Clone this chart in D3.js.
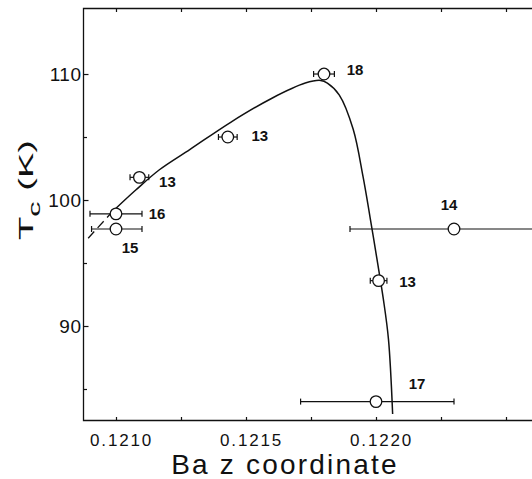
<!DOCTYPE html>
<html>
<head>
<meta charset="utf-8">
<script src="https://cdn.jsdelivr.net/npm/d3@7"></script>
<style>
    body { margin: 0; background: #fff; }
    #chart-area { width: 532px; height: 479px; }
    .axis path, .axis line { stroke: #111; stroke-width: 1.2px; }
    .axis text { font-family: "Liberation Sans", Arial, sans-serif; fill: #111; }
    .pt-label { font-family: "Liberation Sans", Arial, sans-serif; font-weight: bold; font-size: 15px; fill: #111; }
</style>
</head>
<body>
<div id="chart-area"></div>
<script>

// measured points (Ba z coordinate vs Tc)
let bazZ = [0.12180, 0.12143, 0.12109, 0.12100, 0.12100, 0.12230, 0.12201, 0.12200];
let tcK = [110.0, 105.0, 101.8, 98.9, 97.7, 97.7, 93.6, 84.0];
let errLow = [0.00004, 0.000036, 0.000036, 0.0001, 0.000094, 0.0004, 0.000032, 0.00029];
let errHigh = [0.00004, 0.000036, 0.000036, 0.0001, 0.0001, 0.0004, 0.000032, 0.0003];
let refLabels = ["18", "13", "13", "16", "15", "14", "13", "17"];

// guide curve drawn through the points
let curveZ = [0.120985, 0.121076, 0.121167, 0.121285, 0.121441, 0.121598, 0.121728, 0.121787,
    0.121813, 0.121859, 0.121912, 0.121950, 0.121977, 0.122003, 0.122028, 0.122048, 0.122064];
let curveT = [99.05, 100.79, 102.4, 104.02, 106.17, 108.06, 109.28, 109.49,
    109.28, 108.33, 105.63, 101.87, 98.65, 95.4, 92.17, 88.94, 83.02];
let dashZ = [0.120893, 0.120985];
let dashT = [96.97, 99.05];

// ticks
let xMajor = [0.1210, 0.1215, 0.1220];
let xMinor = [0.12125, 0.12175, 0.12225, 0.1225];
let xTickLabels = ["0.1210", "0.1215", "0.1220"];
let yMajor = [90, 100, 110];
let yMinor = [85, 95, 105];
let yTickLabels = ["90", "100", "110"];

class TcChart {

    constructor(parentElement) {
        this.parentElement = parentElement;
        this.initVis();
    }

    initVis() {
        let vis = this;

        vis.left = 83.5;
        vis.top = 8.5;
        vis.bottom = 420.5;
        vis.right = 540;

        vis.svg = d3.select("#" + vis.parentElement).append("svg")
            .attr("width", 532)
            .attr("height", 479);

        vis.x = d3.scaleLinear()
            .domain([0.1208731, 0.1226])
            .range([83, 532]);

        vis.y = d3.scaleLinear()
            .domain([82.5, 115.2])
            .range([vis.bottom, vis.top]);

        vis.updateVis();
    }

    updateVis() {
        let vis = this;
        let allX = xMajor.concat(xMinor);
        let allY = yMajor.concat(yMinor);

        // frame lines
        vis.svg.append("path")
            .attr("d", `M${vis.right},${vis.top}H${vis.left}V${vis.bottom}H${vis.right}`)
            .attr("fill", "none")
            .attr("stroke", "#111")
            .attr("stroke-width", 1.3);

        // bottom axis (ticks inside)
        let xAxis = d3.axisBottom(vis.x)
            .tickValues(allX)
            .tickSizeInner(-3.5)
            .tickSizeOuter(0)
            .tickPadding(13)
            .tickFormat(d => {
                let i = xMajor.indexOf(d);
                return i >= 0 ? xTickLabels[i] : "";
            });
        let gx = vis.svg.append("g")
            .attr("class", "axis x-axis")
            .attr("transform", `translate(0,${vis.bottom})`)
            .call(xAxis);
        gx.select(".domain").remove();
        gx.selectAll("text")
            .attr("font-size", 17)
            .attr("dx", 5)
            .attr("letter-spacing", 1.8);

        // top axis ticks
        let gxt = vis.svg.append("g")
            .attr("class", "axis")
            .attr("transform", `translate(0,${vis.top})`)
            .call(d3.axisTop(vis.x).tickValues(allX).tickSizeInner(-3.5).tickSizeOuter(0).tickFormat(""));
        gxt.select(".domain").remove();

        // left axis
        let yAxis = d3.axisLeft(vis.y)
            .tickValues(allY)
            .tickSizeOuter(0)
            .tickSizeInner(-5)
            .tickPadding(2)
            .tickFormat(d => {
                let i = yMajor.indexOf(d);
                return i >= 0 ? yTickLabels[i] : "";
            });
        let gy = vis.svg.append("g")
            .attr("class", "axis y-axis")
            .attr("transform", `translate(${vis.left},0)`)
            .call(yAxis);
        gy.select(".domain").remove();
        gy.selectAll("text")
            .attr("font-size", 19)
            .attr("letter-spacing", 0.5);
        gy.selectAll(".tick")
            .filter(d => yMinor.includes(d))
            .select("line")
            .attr("x2", 3.5);

        // axis titles
        vis.svg.append("text")
            .attr("x", 285)
            .attr("y", 474)
            .attr("text-anchor", "middle")
            .attr("font-family", "Liberation Sans, Arial, sans-serif")
            .attr("font-size", 28)
            .attr("letter-spacing", 2.2)
            .attr("fill", "#111")
            .text("Ba z coordinate");

        let yt = vis.svg.append("text")
            .attr("transform", "translate(33,240) rotate(-90)")
            .attr("font-family", "Liberation Sans, Arial, sans-serif")
            .attr("font-size", 21)
            .attr("fill", "#111")
            .attr("textLength", 100)
            .attr("lengthAdjust", "spacingAndGlyphs");
        yt.append("tspan").text("T");
        yt.append("tspan").attr("font-size", 17).attr("dy", 7).text("c");
        yt.append("tspan").attr("dy", -7).text(" (K)");

        // guide curve
        let line = d3.line()
            .x((d, i) => vis.x(d))
            .curve(d3.curveCatmullRom.alpha(0.5));

        vis.svg.append("path")
            .datum(curveZ)
            .attr("d", line.y((d, i) => vis.y(curveT[i])))
            .attr("fill", "none")
            .attr("stroke", "#111")
            .attr("stroke-width", 1.5);

        vis.svg.append("path")
            .datum(dashZ)
            .attr("d", line.y((d, i) => vis.y(dashT[i])))
            .attr("fill", "none")
            .attr("stroke", "#111")
            .attr("stroke-width", 1.3)
            .attr("stroke-dasharray", "9,5");

        // error bars
        let pts = bazZ.map((z, i) => ({ z: z, t: tcK[i], lo: z - errLow[i], hi: z + errHigh[i], lab: refLabels[i] }));

        let eb = vis.svg.append("g").attr("stroke", "#111").attr("stroke-width", 1.2);
        eb.selectAll(".ebar")
            .data(pts)
            .join("line")
            .attr("class", "ebar")
            .attr("x1", d => vis.x(d.lo))
            .attr("x2", d => vis.x(d.hi))
            .attr("y1", d => vis.y(d.t))
            .attr("y2", d => vis.y(d.t));
        eb.selectAll(".capL")
            .data(pts)
            .join("line")
            .attr("class", "capL")
            .attr("x1", d => vis.x(d.lo))
            .attr("x2", d => vis.x(d.lo))
            .attr("y1", d => vis.y(d.t) - 3)
            .attr("y2", d => vis.y(d.t) + 3);
        eb.selectAll(".capR")
            .data(pts)
            .join("line")
            .attr("class", "capR")
            .attr("x1", d => vis.x(d.hi))
            .attr("x2", d => vis.x(d.hi))
            .attr("y1", d => vis.y(d.t) - 3)
            .attr("y2", d => vis.y(d.t) + 3);

        // circles
        vis.svg.selectAll(".pt")
            .data(pts)
            .join("circle")
            .attr("class", "pt")
            .attr("cx", d => vis.x(d.z))
            .attr("cy", d => vis.y(d.t))
            .attr("r", 5.8)
            .attr("fill", "#fff")
            .attr("stroke", "#111")
            .attr("stroke-width", 1.3);

        // reference labels, offsets from their circles
        let labDx = [31, 32, 28, 41, 14, -5, 29, 41];
        let labDy = [-5, -2, 4, 0, 19, -24, 1, -18];
        vis.svg.selectAll(".pt-label")
            .data(pts)
            .join("text")
            .attr("class", "pt-label")
            .attr("x", (d, i) => vis.x(d.z) + labDx[i])
            .attr("y", (d, i) => vis.y(d.t) + labDy[i])
            .attr("text-anchor", "middle")
            .attr("dominant-baseline", "central")
            .text(d => d.lab);
    }
}

new TcChart("chart-area");

</script>
</body>
</html>
